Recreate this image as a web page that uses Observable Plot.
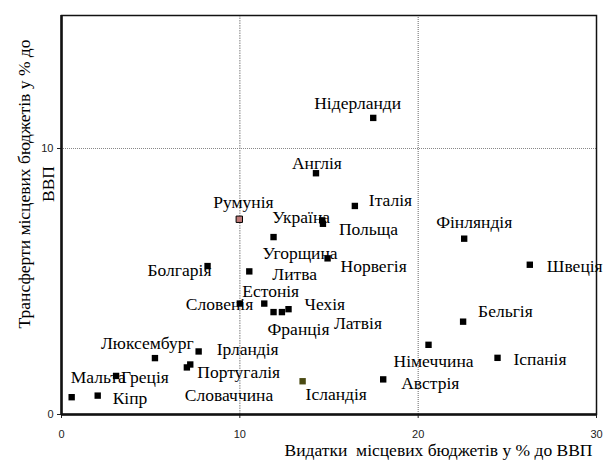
<!DOCTYPE html>
<html>
<head>
<meta charset="utf-8">
<script src="https://cdn.jsdelivr.net/npm/d3@7"></script>
<script src="https://cdn.jsdelivr.net/npm/@observablehq/plot@0.6"></script>
<style>
  html, body { margin: 0; padding: 0; background: white; }
</style>
</head>
<body>
<div id="chart"></div>
<script>
// Data
const countries = ["Нідерланди","Англія","Італія","Україна","Польща","Фінляндія","Румунія","Угорщина","Болгарія","Литва","Норвегія","Швеція","Словенія","Естонія","Франція","Латвія","Чехія","Бельгія","Німеччина","Іспанія","Люксембург","Ірландія","Португалія","Словаччина","Греція","Мальта","Кіпр","Австрія","Ісландія"];
const spending = [17.48,14.27,16.45,14.62,14.66,22.58,9.97,11.89,8.19,10.53,14.92,26.26,10.0,11.37,11.89,12.36,12.73,22.52,20.58,24.45,5.24,7.69,7.22,7.03,3.06,0.57,2.03,18.04,13.52];
const transfers = [11.15,9.07,7.84,7.30,7.17,6.61,7.34,6.67,5.58,5.38,5.87,5.63,4.17,4.17,3.85,3.85,3.96,3.49,2.62,2.13,2.12,2.37,1.88,1.77,1.45,0.65,0.71,1.32,1.25];
const xTicks = [0, 10, 20, 30];
const yTicks = [0, 10];
const xTitle = "Видатки\u00a0 місцевих бюджетів у % до ВВП";
const yTitle = "Трансферти місцевих бюджетів у % до\nВВП";

// Label placement (pixel offsets from each marker) — styling only
const labelOffsets = {
  "Нідерланди":[-59,-15],"Англія":[-24,-10],"Італія":[14,-6],"Україна":[-50,-3],"Польща":[16,6],
  "Фінляндія":[-28,-16],"Румунія":[-26,-17],"Угорщина":[-11,16],"Болгарія":[-60,4],"Литва":[23,3],
  "Норвегія":[13,8],"Швеція":[17,2],"Словенія":[-54,1],"Естонія":[-22,-12],"Франція":[-6,17],
  "Латвія":[52,11],"Чехія":[16,-5],"Бельгія":[15,-10],"Німеччина":[-35,17],"Іспанія":[16,2],
  "Люксембург":[-54,-15],"Ірландія":[18,-2],"Португалія":[7,8],"Словаччина":[-2,28],"Греція":[5,1],
  "Мальта":[-1,-20],"Кіпр":[15,3],"Австрія":[18,4],"Ісландія":[3,13]
};
const markerFill = {"Румунія": "#c07a78", "Ісландія": "#4a4a12"};

const data = countries.map((c, i) => ({country: c, x: spending[i], y: transfers[i]}));

const serif = "Liberation Serif";
const labelSize = 17.5;

const chart = Plot.plot({
  width: 606,
  height: 464,
  marginLeft: 61,
  marginRight: 10,
  marginTop: 15,
  marginBottom: 50,
  style: {fontFamily: "Liberation Sans", fontSize: "11px", color: "#222", background: "white"},
  x: {domain: [0, 30], ticks: xTicks, tickSize: 4, tickPadding: 12, label: null},
  y: {domain: [0, 15], ticks: yTicks, tickSize: 4, tickPadding: 4, label: null},
  marks: [
    Plot.ruleX([10], {stroke: "#aaa", strokeWidth: 1.5, strokeDasharray: "1.5,1"}),
    Plot.ruleX([20], {stroke: "#666", strokeWidth: 1, strokeDasharray: "1,1"}),
    Plot.ruleY([10], {stroke: "#888", strokeWidth: 1, strokeDasharray: "1,1"}),
    Plot.frame({stroke: "#111", strokeWidth: 1.5}),
    Plot.ruleX([0], {stroke: "#111", strokeWidth: 2.5}),
    Plot.ruleY([0], {stroke: "#111", strokeWidth: 2.5}),
    Plot.dot(data, {
      x: "x", y: "y", symbol: "square", r: 3.6,
      fill: d => markerFill[d.country] || "black",
      stroke: d => d.country === "Румунія" ? "black" : "none",
      strokeWidth: 1
    }),
    ...data.map(d => Plot.text([d], {
      x: "x", y: "y", text: "country",
      dx: labelOffsets[d.country][0], dy: labelOffsets[d.country][1],
      textAnchor: "start", lineAnchor: "middle",
      fontFamily: serif, fontSize: labelSize, fill: "black"
    })),
    Plot.text([xTitle], {
      frameAnchor: "bottom-right", textAnchor: "end", lineAnchor: "middle",
      dx: -4, dy: 36, fontFamily: serif, fontSize: labelSize, fill: "black"
    }),
    Plot.text([yTitle], {
      frameAnchor: "left", rotate: -90, textAnchor: "middle", lineAnchor: "middle",
      lineHeight: 1.37, dx: -27, dy: -31, fontFamily: serif, fontSize: labelSize, fill: "black"
    })
  ]
});
document.getElementById("chart").appendChild(chart);
</script>
</body>
</html>
